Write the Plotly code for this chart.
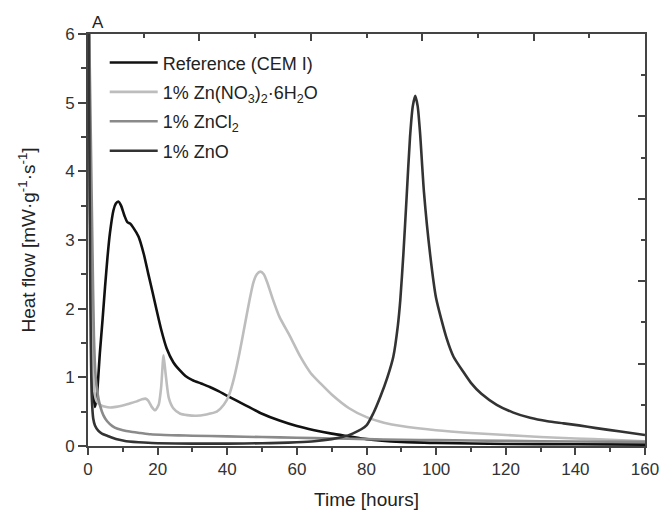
import plotly.graph_objects as go

# ---------------- data ----------------
ref_t = [0.3, 0.6, 1.0, 1.5, 2.0, 2.5, 3.4, 4.2, 4.9, 5.6, 6.3, 7.3, 8.0, 8.7, 9.5, 10.5, 11.3,
         12.1, 13.0, 14.5, 16, 17.3, 18.5, 19.7, 21, 22.6, 24.5, 26.4, 28, 30, 32.5, 35, 37.5,
         40, 45, 50, 55, 60, 65, 70, 75, 80, 90, 100, 120, 140, 160]
ref_v = [6.2, 3.5, 1.6, 0.8, 0.57, 0.7, 1.35, 1.85, 2.32, 2.75, 3.1, 3.43, 3.53, 3.56, 3.5, 3.35,
         3.26, 3.24, 3.18, 3.05, 2.8, 2.51, 2.25, 1.98, 1.7, 1.42, 1.22, 1.1, 1.02, 0.96, 0.91,
         0.86, 0.8, 0.73, 0.6, 0.47, 0.37, 0.29, 0.23, 0.18, 0.14, 0.1, 0.06, 0.045, 0.03, 0.025,
         0.02]

zn_no3_t = [0.3, 0.7, 1.2, 1.8, 2.5, 3.5, 5, 6.3, 8, 10, 12, 14, 15.5, 16.5, 17.3, 18.3, 19.3,
            20.3, 21.0, 21.7, 22.3, 23.2, 24.5, 26.5, 28.5, 31, 34, 37, 39, 40.5, 42, 43.5, 45,
            46.5, 47.5, 48.5, 49.5, 50.5, 51.5, 53, 55, 58, 61, 64, 67, 70, 75, 80, 85, 90, 100,
            110, 120, 130, 140, 150, 160]
zn_no3_v = [6.2, 3.5, 1.5, 0.8, 0.65, 0.6, 0.57, 0.56, 0.57, 0.59, 0.62, 0.65, 0.68, 0.69, 0.66,
            0.57, 0.52, 0.6, 0.85, 1.32, 1.05, 0.7, 0.55, 0.47, 0.45, 0.44, 0.46, 0.5, 0.6, 0.74,
            1.0, 1.35, 1.75, 2.15, 2.38, 2.5, 2.54, 2.5, 2.38, 2.15, 1.88, 1.6, 1.3, 1.06, 0.9,
            0.75, 0.55, 0.42, 0.34, 0.29, 0.23, 0.19, 0.16, 0.13, 0.11, 0.09, 0.07]

zncl2_t = [0.3, 0.8, 1.3, 1.7, 2.2, 2.8, 3.5, 4.4, 5.5, 7, 8.5, 10, 12, 15, 18, 22, 26, 30, 40,
           50, 60, 70, 80, 90, 100, 120, 140, 160]
zncl2_v = [6.2, 4.5, 2.8, 1.6, 1.0, 0.75, 0.58, 0.45, 0.36, 0.29, 0.25, 0.23, 0.21, 0.19, 0.17,
           0.16, 0.155, 0.15, 0.14, 0.13, 0.12, 0.11, 0.1, 0.09, 0.085, 0.075, 0.065, 0.06]

zno_t = [0.2, 0.5, 0.8, 1.1, 1.5, 2, 3, 4, 5.5, 7, 9, 11, 13, 16, 20, 30, 40, 50, 55, 60, 65,
         70, 73, 76, 80, 82, 84, 86, 87.7, 89, 89.7, 90.6, 91.5, 92.5, 93.3, 94, 94.7, 95.4,
         96.5, 98.3, 100, 103, 105, 107.8, 110, 113, 117.4, 122, 127, 132, 136.6, 141, 146, 153, 160]
zno_v = [6.2, 3.5, 1.5, 0.7, 0.4, 0.3, 0.22, 0.18, 0.15, 0.12, 0.09, 0.07, 0.06, 0.05, 0.04,
         0.035, 0.035, 0.04, 0.045, 0.055, 0.07, 0.1, 0.13, 0.18, 0.3, 0.48, 0.72, 1.0, 1.3, 1.75,
         2.12, 2.8, 3.6, 4.5, 4.95, 5.1, 4.95, 4.55, 3.7, 2.78, 2.15, 1.57, 1.3, 1.08, 0.92, 0.76,
         0.6, 0.49, 0.41, 0.36, 0.33, 0.3, 0.26, 0.21, 0.16]

series_names = ["Reference (CEM I)",
                "1% Zn(NO<sub>3</sub>)<sub>2</sub>·6H<sub>2</sub>O",
                "1% ZnCl<sub>2</sub>",
                "1% ZnO"]
x_ticks = [0, 20, 40, 60, 80, 100, 120, 140, 160]
y_ticks = [0, 1, 2, 3, 4, 5, 6]

# ---------------- figure ----------------
colors = ["#111111", "#bdbdbd", "#8a8a8a", "#333333"]
data = [(ref_t, ref_v), (zn_no3_t, zn_no3_v), (zncl2_t, zncl2_v), (zno_t, zno_v)]

fig = go.Figure()
for i, ((t, v), name, c) in enumerate(zip(data, series_names, colors)):
    fig.add_trace(go.Scatter(x=t, y=v, mode="lines", name=name, legendgroup=f"g{i}",
                             line=dict(color=c, width=2.6, shape="spline", smoothing=0.6)))

# invisible trace to anchor the mirror axes
fig.add_trace(go.Scatter(x=[None], y=[None], xaxis="x2", yaxis="y2",
                         showlegend=False, hoverinfo="skip"))

axis_color = "#444444"
font_family = "Liberation Sans, Arial, sans-serif"

fig.update_layout(
    width=661, height=510,
    autosize=False,
    margin=dict(l=88, r=16, t=34, b=64, autoexpand=False),
    paper_bgcolor="white", plot_bgcolor="white",
    font=dict(family=font_family, color="#222222", size=17),
    showlegend=True,
    legend=dict(x=0.03, y=0.975, xanchor="left", yanchor="top",
                bgcolor="rgba(0,0,0,0)", font=dict(size=18, color="#222222"),
                itemwidth=48, tracegroupgap=3),
    xaxis=dict(range=[0, 160], tickvals=x_ticks, ticks="outside", ticklen=7, tickwidth=1.5,
               tickcolor=axis_color, showline=True, linecolor=axis_color, linewidth=2,
               showgrid=False, zeroline=False, automargin=False,
               minor=dict(ticks="outside", dtick=10, tick0=0, ticklen=4, tickwidth=1.5,
                          tickcolor=axis_color, showgrid=False),
               title=dict(text="Time [hours]", font=dict(size=19, color="#222222"), standoff=14),
               tickfont=dict(size=17, color="#333333")),
    yaxis=dict(range=[0, 6], tickvals=y_ticks, ticks="outside", ticklen=8, tickwidth=1.5,
               tickcolor=axis_color, showline=True, linecolor=axis_color, linewidth=2,
               showgrid=False, zeroline=False, automargin=False,
               minor=dict(ticks="outside", dtick=0.5, tick0=0, ticklen=5, tickwidth=1.5,
                          tickcolor=axis_color, showgrid=False),
               title=dict(text="Heat flow [mW·g<sup>-1</sup>·s<sup>-1</sup>]",
                          font=dict(size=19, color="#222222"), standoff=24),
               tickfont=dict(size=17, color="#333333")),
    xaxis2=dict(overlaying="x", side="top", anchor="y", range=[0, 160], tick0=0, dtick=32,
                ticks="inside", ticklen=7, tickwidth=1.5, tickcolor=axis_color,
                showline=True, linecolor=axis_color, linewidth=2, showticklabels=False,
                showgrid=False, zeroline=False, automargin=False,
                minor=dict(ticks="inside", dtick=16, tick0=0, ticklen=4, tickwidth=1.5,
                           tickcolor=axis_color, showgrid=False)),
    yaxis2=dict(overlaying="y", side="right", anchor="x", range=[0, 6], tick0=0, dtick=1.2,
                ticks="inside", ticklen=7, tickwidth=1.5, tickcolor=axis_color,
                showline=True, linecolor=axis_color, linewidth=2, showticklabels=False,
                showgrid=False, zeroline=False, automargin=False,
                minor=dict(ticks="inside", dtick=0.6, tick0=0, ticklen=4, tickwidth=1.5,
                           tickcolor=axis_color, showgrid=False)),
    annotations=[dict(text="A", xref="paper", yref="paper", x=0.018, y=1.0, xanchor="center",
                      yanchor="bottom", showarrow=False, font=dict(size=17, color="#222222"))],
)

fig.write_html("out.html")
